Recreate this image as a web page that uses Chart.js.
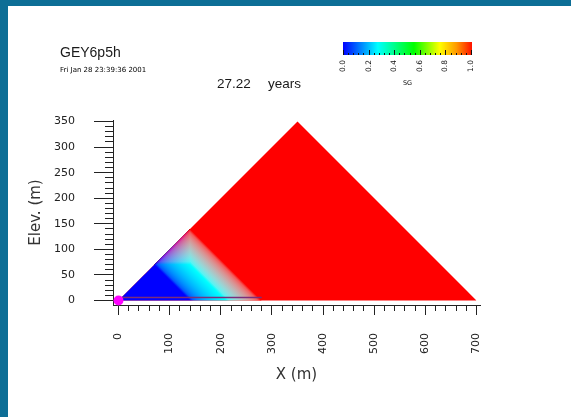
<!DOCTYPE html>
<html><head><meta charset="utf-8">
<script src="https://cdn.jsdelivr.net/npm/chart.js@4.4.0/dist/chart.umd.min.js"></script>
<style>
html,body{margin:0;padding:0;background:#fff;}
#wrap{position:relative;width:571px;height:417px;overflow:hidden;background:#fff;}
#c{position:absolute;left:0;top:0;}
.strip{position:absolute;background:#0d6e96;}
</style></head><body>
<div id="wrap">
<canvas id="c" width="571" height="417"></canvas>
<div class="strip" style="left:0;top:0;width:571px;height:6px"></div>
<div class="strip" style="left:0;top:0;width:8px;height:417px"></div>
</div>
<script>
// ---------------- data ----------------
const domainX = [0, 350, 700];            // model domain outline (SG = 1, red)
const domainY = [0, 350, 0];
const plumeX = [0, 140, 280];             // region touched by injected fluid
const plumeY = [0, 140, 0];
const plumeContourC = [140, 210, 280];    // x+y where SG is 0.0, ~0.25, 1.0
const plumeContourColors = ['#0000ff', '#00ffff', '#ff0000'];
const capX = [70, 140];                   // upper element of plume (fills down to capBase)
const capY = [70, 140];
const capBase = 70;
const wellX = [0, 280];
const wellY = [6, 6];
const sourceX = [0];
const sourceY = [0];

const xTickValues = [0, 100, 200, 300, 400, 500, 600, 700];
const xTickLabels = ['0', '100', '200', '300', '400', '500', '600', '700'];
const yTickValues = [0, 50, 100, 150, 200, 250, 300, 350];
const yTickLabels = ['0', '50', '100', '150', '200', '250', '300', '350'];
const cbTickValues = [0, 0.2, 0.4, 0.6, 0.8, 1.0];
const cbTickLabels = ['0.0', '0.2', '0.4', '0.6', '0.8', '1.0'];
const cbStops = [0, 0.27, 0.55, 0.75, 0.88, 1];
const cbColors = ['#0000ff', '#00ffff', '#00ff00', '#ffff00', '#ff9900', '#ff1000'];

const titleText = 'GEY6p5h';
const dateText = 'Fri Jan 28 23:39:36 2001';
const timeValue = '27.22';
const timeUnit = 'years';
const cbTitle = 'SG';
const xTitle = 'X (m)';
const yTitle = 'Elev. (m)';

// ---------------- helpers ----------------
const xMinorStep = 20, yMinorStep = 10, cbMinorStep = 0.04;
function stepsBetween(a, b, step) {
  const out = []; const n = Math.round((b - a) / step);
  for (let k = 0; k <= n; k++) out.push(+(a + k * step).toFixed(6));
  return out;
}
const xAllTicks = stepsBetween(xTickValues[0], xTickValues[xTickValues.length - 1], xMinorStep);
const yAllTicks = stepsBetween(yTickValues[0], yTickValues[yTickValues.length - 1], yMinorStep);
const cbAllTicks = stepsBetween(0, 1, cbMinorStep);

function hex2rgb(h) { h = h.replace('#', ''); return [0, 2, 4].map(i => parseInt(h.substr(i, 2), 16)); }
function mixG(a, b, f) {
  return a.map((v, i) => Math.round(255 * Math.pow((1 - f) * Math.pow(v / 255, 2.2) + f * Math.pow(b[i] / 255, 2.2), 1 / 2.2)));
}
function addStops(g, c1, c2, s0, s1, n) {
  for (let k = 0; k <= n; k++) {
    const f = k / n; const c = mixG(c1, c2, f);
    g.addColorStop(Math.min(1, Math.max(0, s0 + (s1 - s0) * f)), 'rgb(' + c.join(',') + ')');
  }
}
const NONE = 'rgba(0,0,0,0)';

function plumeFill(context) {
  const chart = context.chart;
  if (!chart.chartArea) return NONE;
  const xs = chart.scales.x, ys = chart.scales.y;
  const c0 = plumeContourC[0], c1 = plumeContourC[plumeContourC.length - 1];
  const g = chart.ctx.createLinearGradient(
    xs.getPixelForValue(c0 / 2), ys.getPixelForValue(c0 / 2),
    xs.getPixelForValue(c1 / 2), ys.getPixelForValue(c1 / 2));
  for (let i = 0; i < plumeContourC.length - 1; i++) {
    addStops(g, hex2rgb(plumeContourColors[i]), hex2rgb(plumeContourColors[i + 1]),
      (plumeContourC[i] - c0) / (c1 - c0), (plumeContourC[i + 1] - c0) / (c1 - c0), 10);
  }
  return g;
}
// cap element: red & blue vary with height, green with distance from the y=x edge
function capFillRB(context) {
  const chart = context.chart;
  if (!chart.chartArea) return NONE;
  const xs = chart.scales.x, ys = chart.scales.y;
  const g = chart.ctx.createLinearGradient(0, ys.getPixelForValue(capY[0]), 0, ys.getPixelForValue(capY[1]));
  addStops(g, hex2rgb(plumeContourColors[0]), hex2rgb(plumeContourColors[2]), 0, 1, 12);
  return g;
}
function capFillG(context) {
  const chart = context.chart;
  if (!chart.chartArea) return NONE;
  const xs = chart.scales.x, ys = chart.scales.y;
  const mid = (capX[1] + capBase) / 2;   // foot of perpendicular on y=x
  const g = chart.ctx.createLinearGradient(
    xs.getPixelForValue(mid), ys.getPixelForValue(mid),
    xs.getPixelForValue(capX[1]), ys.getPixelForValue(capBase));
  addStops(g, [0, 0, 0], [0, 255, 0], 0, 1, 12);
  return g;
}
const pts = (X, Y) => X.map((x, i) => ({x: x, y: Y[i]}));

const compositePlugin = {
  id: 'composite',
  afterDatasetDraw(chart, args) {
    const ds = chart.data.datasets[args.index];
    if (ds.nextComposite) chart.ctx.globalCompositeOperation = ds.nextComposite;
  }
};

const cb = {x: 343, y: 42, w: 129, h: 13};
const headerPlugin = {
  id: 'header',
  afterDraw(chart) {
    const ctx = chart.ctx;
    ctx.save();
    ctx.globalCompositeOperation = 'source-over';
    ctx.textAlign = 'left'; ctx.textBaseline = 'alphabetic';
    ctx.fillStyle = '#1a1a1a';
    ctx.font = '14px "Liberation Sans"';
    ctx.fillText(titleText, 60, 57);
    ctx.fillStyle = '#000';
    ctx.font = '7px "DejaVu Sans"';
    ctx.fillText(dateText, 60, 72);
    ctx.fillStyle = '#1a1a1a';
    ctx.font = '13.5px "Liberation Sans"';
    ctx.fillText(timeValue, 217, 88);
    ctx.fillText(timeUnit, 268, 88);
    // colour bar
    const g = ctx.createLinearGradient(cb.x, 0, cb.x + cb.w, 0);
    cbStops.forEach((s, i) => g.addColorStop(s, cbColors[i]));
    ctx.fillStyle = g;
    ctx.fillRect(cb.x, cb.y, cb.w, cb.h);
    ctx.strokeStyle = '#111'; ctx.lineWidth = 1;
    cbAllTicks.forEach(v => {
      const major = cbTickValues.some(t => Math.abs(t - v) < 1e-6);
      const x = Math.round(cb.x + v * (cb.w - 1)) + 0.5;
      ctx.beginPath();
      ctx.moveTo(x, cb.y + cb.h);
      ctx.lineTo(x, cb.y + cb.h - (major ? 5 : 2));
      ctx.stroke();
    });
    ctx.fillStyle = '#111';
    ctx.font = '7.5px "DejaVu Sans"';
    cbTickValues.forEach((v, i) => {
      const x = cb.x + v * (cb.w - 1);
      ctx.save();
      ctx.translate(x, 60);
      ctx.rotate(-Math.PI / 2);
      ctx.textAlign = 'right'; ctx.textBaseline = 'middle';
      ctx.fillText(cbTickLabels[i], 0, 0);
      ctx.restore();
    });
    ctx.font = '6.5px "DejaVu Sans"';
    ctx.textAlign = 'center'; ctx.textBaseline = 'alphabetic';
    ctx.fillText(cbTitle, cb.x + cb.w / 2, 84.5);
    ctx.restore();
  }
};

const tickFont = {family: 'DejaVu Sans', size: 11};
const titleFont = {family: 'DejaVu Sans', size: 15};

new Chart(document.getElementById('c'), {
  type: 'line',
  data: {
    datasets: [
      {label: 'domain', data: pts(domainX, domainY), order: 6, fill: {value: 0},
       backgroundColor: '#ff0000', borderColor: NONE, borderWidth: 0, pointRadius: 0},
      {label: 'plume', data: pts(plumeX, plumeY), order: 5, fill: {value: 0},
       backgroundColor: plumeFill, borderColor: NONE, borderWidth: 0, pointRadius: 0},
      {label: 'cap', data: pts(capX, capY), order: 4, fill: {value: capBase},
       backgroundColor: capFillRB, borderColor: NONE, borderWidth: 0, pointRadius: 0,
       nextComposite: 'lighter'},
      {label: 'capG', data: pts(capX, capY), order: 3, fill: {value: capBase},
       backgroundColor: capFillG, borderColor: NONE, borderWidth: 0, pointRadius: 0,
       nextComposite: 'source-over'},
      {label: 'well', data: pts(wellX, wellY), order: 2, fill: false,
       borderColor: '#7b2d7b', borderWidth: 1.5, pointRadius: 0},
      {label: 'source', data: pts(sourceX, sourceY), order: 1, showLine: false, fill: false,
       pointRadius: 5, pointBackgroundColor: '#ff00ff', pointBorderWidth: 0, clip: false}
    ]
  },
  options: {
    responsive: false, animation: false, devicePixelRatio: 1,
    layout: {padding: {left: 27, top: 120, right: 91, bottom: 33}},
    plugins: {legend: {display: false}, tooltip: {enabled: false}, title: {display: false}},
    elements: {line: {tension: 0}},
    scales: {
      x: {
        type: 'linear', min: -10.75, max: 706.9,
        afterBuildTicks: s => { s.ticks = xAllTicks.map(v => ({value: v})); },
        afterFit: s => { s.height = 79; },
        grid: {drawOnChartArea: false, drawTicks: true, tickLength: 10, tickColor: '#222', tickWidth: 1,
          tickBorderDash: c => (c.tick && xTickValues.includes(c.tick.value)) ? [] : [5, 100]},
        border: {display: true, color: '#222', width: 1},
        ticks: {autoSkip: false, maxRotation: 90, minRotation: 90, padding: 18, color: '#222', font: tickFont,
          callback: v => { const i = xTickValues.indexOf(v); return i >= 0 ? xTickLabels[i] : ''; }},
        title: {display: true, text: xTitle, color: '#333', font: titleFont, padding: {top: 0, bottom: 0}}
      },
      y: {
        type: 'linear', min: -8.8, max: 353,
        afterBuildTicks: s => { s.ticks = yAllTicks.map(v => ({value: v})); },
        afterFit: s => { s.width = 86; },
        grid: {drawOnChartArea: false, drawTicks: true, tickLength: 19, tickColor: '#222', tickWidth: 1,
          tickBorderDash: c => (c.tick && yTickValues.includes(c.tick.value)) ? [] : [0, 11, 8, 100]},
        border: {display: true, color: '#222', width: 1},
        ticks: {autoSkip: false, padding: 19, color: '#222', font: tickFont,
          callback: v => { const i = yTickValues.indexOf(v); return i >= 0 ? yTickLabels[i] : ''; }},
        title: {display: true, text: yTitle, color: '#333', font: titleFont, padding: {top: 0, bottom: 0}}
      }
    }
  },
  plugins: [compositePlugin, headerPlugin]
});
</script>
</body></html>
